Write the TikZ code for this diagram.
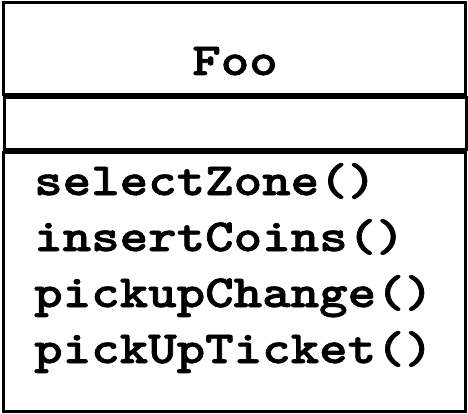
\documentclass[tikz,border=0pt]{standalone}
\usepackage{fontspec}
\newfontfamily\courfont[FakeStretch=1.18,BoldFont=lmmonolt10-bold.otf,BoldFeatures={FakeBold=1.5}]{lmmonolt10-regular.otf}
\begin{document}
\begin{tikzpicture}[x=1pt,y=1pt,
  box/.style={draw=black,line width=3pt,fill=white,inner sep=0pt,outer sep=0pt},
  txt/.style={font=\courfont\bfseries\fontsize{46}{46}\selectfont,inner sep=0pt,text=black}]
\useasboundingbox (0,0) rectangle (468,-414);
\node[box,minimum width=462pt,minimum height=92pt,anchor=north west] (title) at (3,-3) {};
\node[box,minimum width=462pt,minimum height=52pt,anchor=north west] (attrs) at (4,-98) {};
\node[box,minimum width=462pt,minimum height=258pt,anchor=north west] (ops) at (3,-153) {};
\node[txt,anchor=base] (foo) at (235,-75) {Foo};
\node[txt,anchor=base west] (m1) at (34,-195) {selectZone()};
\node[txt,anchor=base west] (m2) at (34,-251) {insertCoins()};
\node[txt,anchor=base west] (m3) at (34,-307) {pickupChange()};
\node[txt,anchor=base west] (m4) at (34,-363) {pickUpTicket()};
\end{tikzpicture}
\end{document}
